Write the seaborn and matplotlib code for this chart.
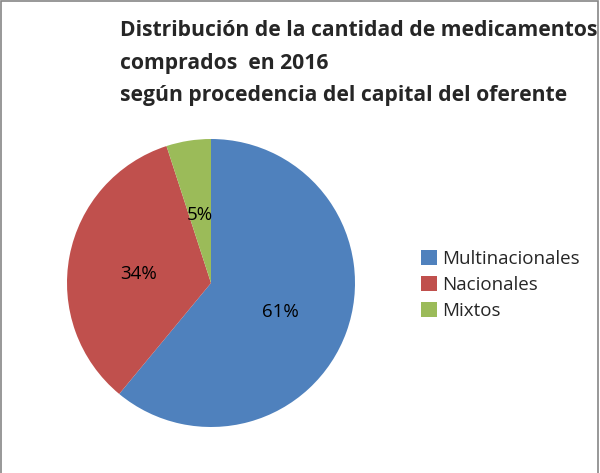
import matplotlib
matplotlib.use("Agg")
import matplotlib.pyplot as plt
import seaborn as sns
from matplotlib.patches import Rectangle

categorias = ['Multinacionales', 'Nacionales', 'Mixtos']
porcentajes = [61, 34, 5]
colores = ['#4F81BD', '#C0504D', '#9BBB59']
titulo = ("Distribución de la cantidad de medicamentos\n"
          "comprados  en 2016\n"
          "según procedencia del capital del oferente")

sns.set_theme(style="white")
plt.rcParams['font.family'] = ['Open Sans', 'DejaVu Sans']

fig = plt.figure(figsize=(6.0, 4.73), dpi=100)
W, H = 600, 473

# pie centred at (211, 283) px with radius 144 px
r = 144
ax = fig.add_axes([(211 - r) / W, 1 - (283 + r) / H, 2 * r / W, 2 * r / H])
wedges, texts, autotexts = ax.pie(porcentajes, colors=colores, startangle=90,
                                  counterclock=False, autopct='%1.0f%%',
                                  pctdistance=0.51,
                                  textprops={'fontsize': 13.5, 'color': 'black'},
                                  wedgeprops={'linewidth': 0})
for t in autotexts:
    t.set_y(t.get_position()[1] - 0.03)
ax.set_aspect('equal')
ax.set_xlim(-1, 1)
ax.set_ylim(-1, 1)

fig.text(120 / W, 1 - 20 / H, titulo, ha='left', va='top', fontsize=15.2,
         fontweight='bold', linespacing=1.72)

leg = fig.legend(wedges, categorias, loc='center left',
                 bbox_to_anchor=(404 / W, 1 - 285 / H), frameon=False,
                 fontsize=13.5, handlelength=0.85, handleheight=0.85,
                 handletextpad=0.3, labelspacing=0.45)

# chart border (bottom edge cropped in the reference)
fig.add_artist(Rectangle((0.5 / W, -0.1), (W - 3) / W, 1.1 - 1.5 / H,
                         transform=fig.transFigure, fill=False,
                         edgecolor='#868686', linewidth=1.2))

fig.savefig('out.png', dpi=100)
